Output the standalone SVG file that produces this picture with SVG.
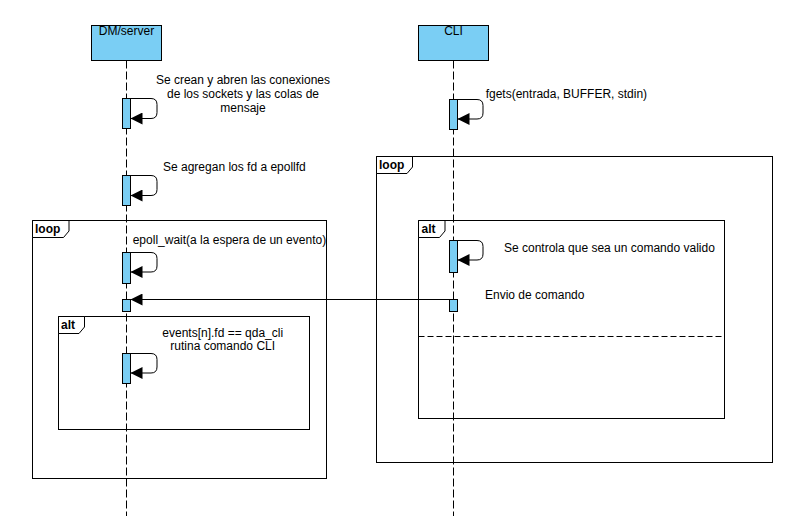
<svg xmlns="http://www.w3.org/2000/svg" width="791" height="516" viewBox="0 0 791 516">
<defs>
<style>
text{font-family:"Liberation Sans",Arial,sans-serif;font-size:12px;fill:#000}
.b{font-weight:bold}
.c{text-anchor:middle}
.head{fill:#7ACEF4;stroke:#000;stroke-width:1}
.act{fill:#7ACEF4;stroke:#000;stroke-width:1}
.life{stroke:#000;stroke-width:1;stroke-dasharray:8 3;fill:none}
.frame{fill:none;stroke:#000;stroke-width:1}
.tab{fill:#fff;stroke:#000;stroke-width:1}
.msg{fill:none;stroke:#000;stroke-width:1}
.div{stroke:#000;stroke-width:1;stroke-dasharray:6 3}
</style>
<marker id="ah" viewBox="0 0 12 12" refX="12" refY="6" markerWidth="12" markerHeight="12" markerUnits="userSpaceOnUse" orient="auto">
<path d="M0,0 L12,6 L0,12 Z" fill="#000"/>
</marker>
</defs>
<rect width="791" height="516" fill="#fff"/>

<g id="frame-loop-left">
<rect class="frame" x="32.5" y="220.5" width="294" height="258"/>
<path class="tab" d="M32.5,220.5 H69 V231 L63.5,237.5 H32.5 Z"/>
<text class="b" x="35" y="233">loop</text>
</g>
<g id="frame-alt-left">
<rect class="frame" x="58.5" y="316.5" width="251" height="113"/>
<path class="tab" d="M58.5,316.5 H84.5 V327 L79,333.5 H58.5 Z"/>
<text class="b" x="61" y="329">alt</text>
</g>
<g id="frame-loop-right">
<rect class="frame" x="376.5" y="156.5" width="396" height="306"/>
<path class="tab" d="M376.5,156.5 H412.5 V167 L407,173.5 H376.5 Z"/>
<text class="b" x="379" y="169">loop</text>
</g>
<g id="frame-alt-right">
<rect class="frame" x="418.5" y="220.5" width="306" height="198"/>
<path class="tab" d="M418.5,220.5 H445 V231 L439.5,237.5 H418.5 Z"/>
<text class="b" x="421.5" y="233">alt</text>
<line class="div" x1="418.5" y1="336.5" x2="724.5" y2="336.5"/>
</g>

<g id="lifeline-dm">
<line class="life" x1="126.5" y1="60.5" x2="126.5" y2="516"/>
<rect class="head" x="91.5" y="25.5" width="70" height="35"/>
<text class="c" x="126.5" y="35">DM/server</text>
<rect class="act" x="122.5" y="98.5" width="8" height="30"/>
<rect class="act" x="122.5" y="175.5" width="8" height="30"/>
<rect class="act" x="122.5" y="252.5" width="8" height="31"/>
<rect class="act" x="122.5" y="299.5" width="8" height="12"/>
<rect class="act" x="122.5" y="353.5" width="8" height="30"/>
</g>
<g id="lifeline-cli">
<line class="life" x1="453.5" y1="60.5" x2="453.5" y2="516"/>
<rect class="head" x="418.5" y="25.5" width="70" height="35"/>
<text class="c" x="453.5" y="35">CLI</text>
<rect class="act" x="449.5" y="99.5" width="8" height="30"/>
<rect class="act" x="449.5" y="240.5" width="8" height="32"/>
<rect class="act" x="449.5" y="299.5" width="8" height="12"/>
</g>

<g id="connectors">
<path class="msg" marker-end="url(#ah)" d="M130.5,98.5 H151 Q157,98.5 157,104.5 V112.5 Q157,118.5 151,118.5 H130.5"/>
<path class="msg" marker-end="url(#ah)" d="M130.5,175.5 H151 Q157,175.5 157,181.5 V189.5 Q157,195.5 151,195.5 H130.5"/>
<path class="msg" marker-end="url(#ah)" d="M130.5,252.5 H151 Q157,252.5 157,258.5 V266 Q157,272 151,272 H130.5"/>
<path class="msg" marker-end="url(#ah)" d="M130.5,353.5 H151 Q157,353.5 157,359.5 V367 Q157,373 151,373 H130.5"/>
<path class="msg" marker-end="url(#ah)" d="M457.5,99.5 H477 Q483,99.5 483,105.5 V113 Q483,119 477,119 H457.5"/>
<path class="msg" marker-end="url(#ah)" d="M457.5,240.5 H477 Q483,240.5 483,246.5 V254 Q483,260 477,260 H457.5"/>
<line class="msg" marker-end="url(#ah)" x1="449.5" y1="299.5" x2="130.5" y2="299.5"/>
</g>

<g id="labels">
<text class="c" x="243" y="84.3">Se crean y abren las conexiones</text>
<text class="c" x="243" y="98.3">de los sockets y las colas de</text>
<text class="c" x="243" y="112.3">mensaje</text>
<text x="163" y="171">Se agregan los fd a epollfd</text>
<text x="485.7" y="98.3">fgets(entrada, BUFFER, stdin)</text>
<text x="132.7" y="244.3">epoll_wait(a la espera de un evento)</text>
<text class="c" x="222.7" y="337">events[n].fd == qda_cli</text>
<text class="c" x="222.7" y="350.3">rutina comando CLI</text>
<text x="504" y="252">Se controla que sea un comando valido</text>
<text x="485" y="298.6">Envio de comando</text>
</g>
</svg>
